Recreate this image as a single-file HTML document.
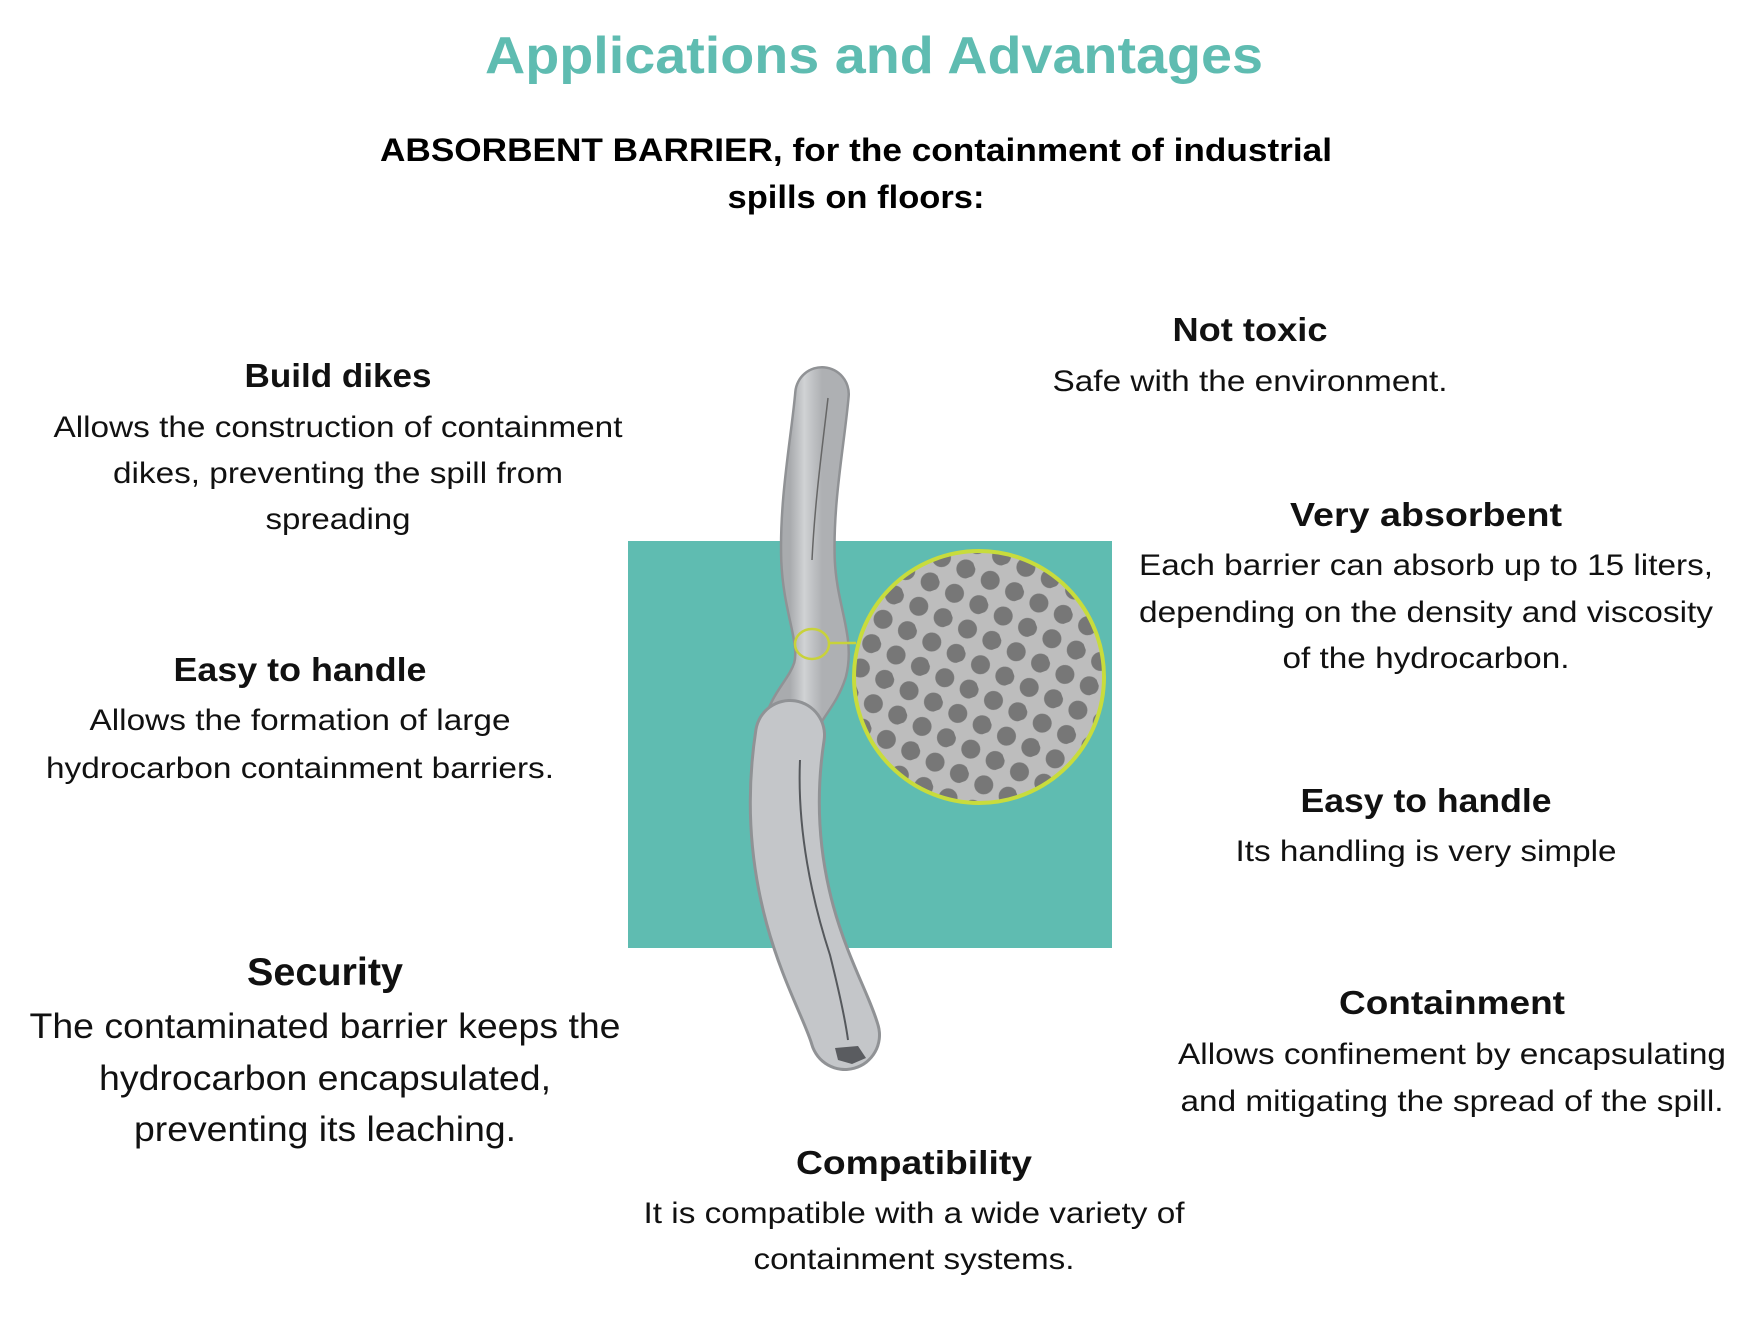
<!DOCTYPE html>
<html><head><meta charset="utf-8"><style>
html,body{margin:0;padding:0;background:#fff;}
svg{display:block}
text{font-family:"Liberation Sans",sans-serif;}
.h{font-weight:bold;font-size:33px;fill:#111;text-anchor:middle}
.b{font-size:30px;fill:#111;text-anchor:middle}
.s{font-size:35px;fill:#111;text-anchor:middle}
</style></head><body>
<svg width="1748" height="1340" viewBox="0 0 1748 1340" xmlns="http://www.w3.org/2000/svg">
<defs>
<pattern id="dots" width="38" height="38" patternUnits="userSpaceOnUse" patternTransform="rotate(-20)">
<rect width="38" height="38" fill="#bdbdbd"/>
<circle cx="10" cy="10" r="9.5" fill="#777"/>
<circle cx="29" cy="29" r="9.5" fill="#777"/>
</pattern>
<linearGradient id="sg" x1="0" x2="1" y1="0" y2="0">
<stop offset="0" stop-color="#a9abae"/><stop offset="0.45" stop-color="#d0d2d4"/><stop offset="1" stop-color="#aeb0b3"/>
</linearGradient>
</defs>
<text x="874" y="73" text-anchor="middle" textLength="778" lengthAdjust="spacingAndGlyphs" style="font-weight:bold;font-size:52px;fill:#5fbcb1">Applications and Advantages</text>
<text x="856" y="161" text-anchor="middle" textLength="952" lengthAdjust="spacingAndGlyphs" style="font-weight:bold;font-size:32px;fill:#000">ABSORBENT BARRIER, for the containment of industrial</text>
<text x="856" y="208" text-anchor="middle" textLength="257" lengthAdjust="spacingAndGlyphs" style="font-weight:bold;font-size:32px;fill:#000">spills on floors:</text>

<rect x="628" y="541" width="484" height="407" fill="#5fbcb1"/>

<!-- sausage -->
<path d="M822,394 C818,440 806,500 808,560 C810,610 828,640 820,670 C812,695 795,705 790,730" fill="none" stroke="#909295" stroke-width="56" stroke-linecap="round"/>
<path d="M822,394 C818,440 806,500 808,560 C810,610 828,640 820,670 C812,695 795,705 790,730" fill="none" stroke="url(#sg)" stroke-width="51" stroke-linecap="round"/>
<path d="M790,735 C780,800 785,860 800,915 C815,970 838,1010 845,1035" fill="none" stroke="#909295" stroke-width="72" stroke-linecap="round"/>
<path d="M790,735 C780,800 785,860 800,915 C815,970 838,1010 845,1035" fill="none" stroke="#c4c6c9" stroke-width="66" stroke-linecap="round"/>
<path d="M800,760 C797,830 812,900 830,955 C840,995 846,1025 848,1040" fill="none" stroke="#55585c" stroke-width="2"/>
<path d="M828,398 C822,450 815,500 812,560" fill="none" stroke="#666" stroke-width="1.5"/>
<path d="M835,1048 L858,1046 L866,1058 L852,1064 L838,1060 Z" fill="#5a5c60"/>

<!-- magnifier -->
<line x1="829" y1="643" x2="856" y2="643" stroke="#c8d23a" stroke-width="2.5"/>
<ellipse cx="812" cy="644" rx="17" ry="15" fill="none" stroke="#c8d23a" stroke-width="2.5"/>
<ellipse cx="979" cy="677" rx="125" ry="126" fill="url(#dots)" stroke="#c8dc3c" stroke-width="4"/>

<!-- left -->
<text class="h" x="338" y="387" textLength="187" lengthAdjust="spacingAndGlyphs">Build dikes</text>
<text class="b" x="338" y="437" textLength="569" lengthAdjust="spacingAndGlyphs">Allows the construction of containment</text>
<text class="b" x="338" y="483" textLength="450" lengthAdjust="spacingAndGlyphs">dikes, preventing the spill from</text>
<text class="b" x="338" y="529" textLength="145" lengthAdjust="spacingAndGlyphs">spreading</text>

<text class="h" x="300" y="681" textLength="253" lengthAdjust="spacingAndGlyphs">Easy to handle</text>
<text class="b" x="300" y="730" textLength="421" lengthAdjust="spacingAndGlyphs">Allows the formation of large</text>
<text class="b" x="300" y="778" textLength="508" lengthAdjust="spacingAndGlyphs">hydrocarbon containment barriers.</text>

<text class="h" x="325" y="985" textLength="156" lengthAdjust="spacingAndGlyphs" style="font-size:39px">Security</text>
<text class="s" x="325" y="1038" textLength="591" lengthAdjust="spacingAndGlyphs">The contaminated barrier keeps the</text>
<text class="s" x="325" y="1090" textLength="452" lengthAdjust="spacingAndGlyphs">hydrocarbon encapsulated,</text>
<text class="s" x="325" y="1141" textLength="382" lengthAdjust="spacingAndGlyphs">preventing its leaching.</text>

<!-- right -->
<text class="h" x="1250" y="341" textLength="155" lengthAdjust="spacingAndGlyphs">Not toxic</text>
<text class="b" x="1250" y="391" textLength="395" lengthAdjust="spacingAndGlyphs">Safe with the environment.</text>

<text class="h" x="1426" y="526" textLength="272" lengthAdjust="spacingAndGlyphs">Very absorbent</text>
<text class="b" x="1426" y="575" textLength="574" lengthAdjust="spacingAndGlyphs">Each barrier can absorb up to 15 liters,</text>
<text class="b" x="1426" y="622" textLength="574" lengthAdjust="spacingAndGlyphs">depending on the density and viscosity</text>
<text class="b" x="1426" y="668" textLength="287" lengthAdjust="spacingAndGlyphs">of the hydrocarbon.</text>

<text class="h" x="1426" y="812" textLength="251" lengthAdjust="spacingAndGlyphs">Easy to handle</text>
<text class="b" x="1426" y="861" textLength="381" lengthAdjust="spacingAndGlyphs">Its handling is very simple</text>

<text class="h" x="1452" y="1014" textLength="226" lengthAdjust="spacingAndGlyphs">Containment</text>
<text class="b" x="1452" y="1064" textLength="548" lengthAdjust="spacingAndGlyphs">Allows confinement by encapsulating</text>
<text class="b" x="1452" y="1111" textLength="543" lengthAdjust="spacingAndGlyphs">and mitigating the spread of the spill.</text>

<text class="h" x="914" y="1174" textLength="236" lengthAdjust="spacingAndGlyphs">Compatibility</text>
<text class="b" x="914" y="1223" textLength="541" lengthAdjust="spacingAndGlyphs">It is compatible with a wide variety of</text>
<text class="b" x="914" y="1269" textLength="321" lengthAdjust="spacingAndGlyphs">containment systems.</text>
</svg>
</body></html>
